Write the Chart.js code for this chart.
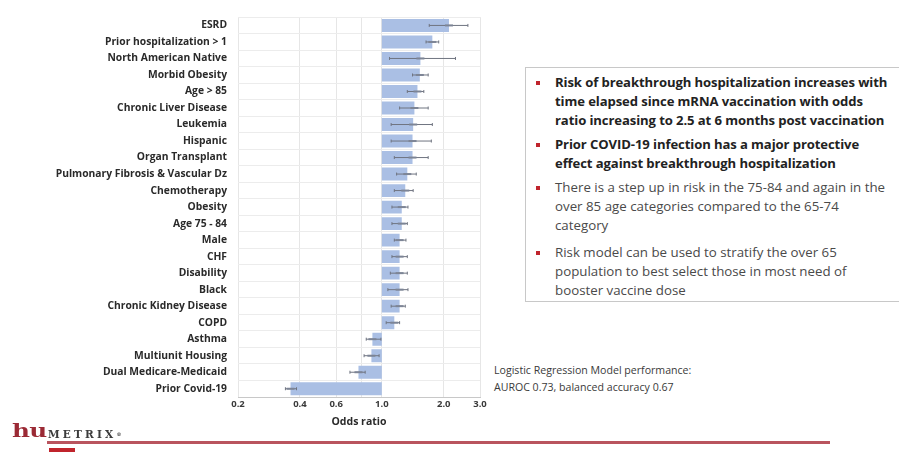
<!DOCTYPE html>
<html>
<head>
<meta charset="utf-8">
<script src="https://cdn.jsdelivr.net/npm/chart.js@4.4.1/dist/chart.umd.min.js"></script>
<style>
  html, body { margin:0; padding:0; background:#fff; width:899px; height:452px; overflow:hidden; position:relative; font-family: "Open Sans", "Liberation Sans", sans-serif; }
  #wrap { position:absolute; left:0; top:0; width:490px; height:430px; }
  #box { position:absolute; left:525px; top:67px; width:380px; height:235px; border:1px solid #c8c8c8; box-sizing:border-box; }
  .b { position:absolute; left:555px; line-height:19px; color:#222; white-space:nowrap; }
  .b.bold { font-weight:bold; font-size:13.1px; letter-spacing:-0.1px; }
  .b.reg { color:#4a4a4a; font-size:13.3px; }
  .sq { position:absolute; left:536px; width:4px; height:4px; background:#c0242c; }
  #perf { position:absolute; left:494px; top:362px; font-size:10.6px; line-height:17px; color:#3a3a3a; white-space:nowrap; }
  #logo-hu { position:absolute; left:12px; top:420px; font-family: "DejaVu Serif", serif; font-weight:bold; font-size:19px; color:#9b2a35; letter-spacing:-0.5px; line-height:21px; transform:scaleX(1.3); transform-origin:left top; }
  #logo-m { position:absolute; left:48px; top:428px; font-family: "DejaVu Serif", serif; font-size:10.5px; line-height:12px; color:#3c3c3c; letter-spacing:3.2px; font-weight:bold; }
  #rline { position:absolute; left:47px; top:441px; width:783px; height:3px; background:#b9545e; }
  #rsq { position:absolute; left:49px; top:448px; width:26px; height:4px; background:#c0242c; }
</style>
</head>
<body>
<div id="wrap"><canvas id="c"></canvas></div>
<div id="box"></div>
<div class="sq" style="top:81px"></div>
<div class="b bold" style="top:73px">Risk of breakthrough hospitalization increases with<br>time elapsed since mRNA vaccination with odds<br>ratio increasing to 2.5 at 6 months post vaccination</div>
<div class="sq" style="top:143px"></div>
<div class="b bold" style="top:135px">Prior COVID-19 infection has a major protective<br>effect against breakthrough hospitalization</div>
<div class="sq" style="top:186px"></div>
<div class="b reg" style="top:178px">There is a step up in risk in the 75-84 and again in the<br>over 85 age categories compared to the 65-74<br>category</div>
<div class="sq" style="top:251px"></div>
<div class="b reg" style="top:243px">Risk model can be used to stratify the over 65<br>population to best select those in most need of<br>booster vaccine dose</div>
<div id="perf">Logistic Regression Model performance:<br>AUROC 0.73, balanced accuracy 0.67</div>
<div id="logo-hu">hu</div>
<div id="logo-m">METRIX<span style="font-size:5px;vertical-align:top;letter-spacing:0">®</span></div>
<div id="rline"></div>
<div id="rsq"></div>
<script>
const categories = [
  "ESRD", "Prior hospitalization > 1", "North American Native", "Morbid Obesity",
  "Age > 85", "Chronic Liver Disease", "Leukemia", "Hispanic", "Organ Transplant",
  "Pulmonary Fibrosis & Vascular Dz", "Chemotherapy", "Obesity", "Age 75 - 84",
  "Male", "CHF", "Disability", "Black", "Chronic Kidney Disease", "COPD",
  "Asthma", "Multiunit Housing", "Dual Medicare-Medicaid", "Prior Covid-19"
];
const oddsRatio = [2.12, 1.76, 1.54, 1.53, 1.49, 1.44, 1.42, 1.41, 1.41, 1.33, 1.30, 1.25, 1.25,
  1.22, 1.22, 1.22, 1.22, 1.22, 1.15, 0.90, 0.89, 0.77, 0.36];
const ciLow = [1.70, 1.64, 1.09, 1.41, 1.33, 1.22, 1.11, 1.11, 1.15, 1.18, 1.15, 1.12, 1.12,
  1.15, 1.12, 1.10, 1.07, 1.11, 1.05, 0.84, 0.82, 0.70, 0.34];
const ciHigh = [2.62, 1.89, 2.28, 1.68, 1.60, 1.68, 1.76, 1.74, 1.68, 1.47, 1.42, 1.34, 1.33,
  1.31, 1.33, 1.33, 1.34, 1.30, 1.22, 0.99, 0.97, 0.83, 0.385];
const xTicks = [0.2, 0.4, 0.6, 0.8, 1.0, 2.0, 3.0];
const xTickLabels = ["0.2", "0.4", "0.6", "", "1.0", "2.0", "3.0"];
const baseline = 1.0;

const errorBars = {
  id: 'errorBars',
  afterDatasetsDraw(chart) {
    const {ctx, scales: {x, y}} = chart;
    ctx.save();
    ctx.strokeStyle = '#6f7480';
    ctx.lineWidth = 1;
    categories.forEach((c, i) => {
      const py = y.getPixelForValue(i);
      const x0 = x.getPixelForValue(ciLow[i]);
      const x1 = x.getPixelForValue(ciHigh[i]);
      ctx.beginPath();
      ctx.moveTo(x0, py); ctx.lineTo(x1, py);
      ctx.moveTo(x0, py - 1.5); ctx.lineTo(x0, py + 1.5);
      ctx.moveTo(x1, py - 1.5); ctx.lineTo(x1, py + 1.5);
      ctx.stroke();
      const pm = x.getPixelForValue(oddsRatio[i]);
      ctx.fillStyle = '#7d8596';
      ctx.fillRect(pm - 4, py - 1, 8, 2);
    });
    ctx.restore();
  }
};

new Chart(document.getElementById('c'), {
  type: 'bar',
  data: {
    labels: categories,
    datasets: [{
      data: oddsRatio.map(v => [baseline, v]),
      backgroundColor: '#aabfe4',
      borderWidth: 0,
      barPercentage: 0.78,
      categoryPercentage: 1.0
    }]
  },
  options: {
    indexAxis: 'y',
    responsive: true,
    maintainAspectRatio: false,
    animation: false,
    layout: { padding: { top: 11, right: 10, bottom: 0, left: 0 } },
    plugins: { legend: { display: false }, tooltip: { enabled: false } },
    scales: {
      x: {
        type: 'logarithmic',
        min: 0.2, max: 3.0,
        afterBuildTicks: s => { s.ticks = xTicks.map(v => ({ value: v })); },
        afterFit: s => { s.height = 33; },
        ticks: {
          autoSkip: false, maxRotation: 0, padding: 2,
          color: '#3a3a3a',
          font: { family: 'Open Sans', size: 9.5, weight: 'bold' },
          callback: (v, i) => xTickLabels[i]
        },
        grid: { color: '#e6e6e6', drawTicks: false },
        border: { color: '#c8c8c8' },
        title: { display: true, text: 'Odds ratio', color: '#2a2a2a',
          font: { family: 'Open Sans', size: 10.5, weight: 'bold' }, padding: { top: 0, bottom: 2 } }
      },
      y: {
        afterFit: s => { s.width = 238; },
        ticks: {
          autoSkip: false, padding: 11,
          color: '#2a2a2a',
          font: { family: 'Open Sans', size: 10.3, weight: 'bold' }
        },
        grid: { color: '#ececec', drawTicks: false, offset: true },
        border: { display: false }
      }
    }
  },
  plugins: [errorBars]
});
</script>
</body>
</html>
